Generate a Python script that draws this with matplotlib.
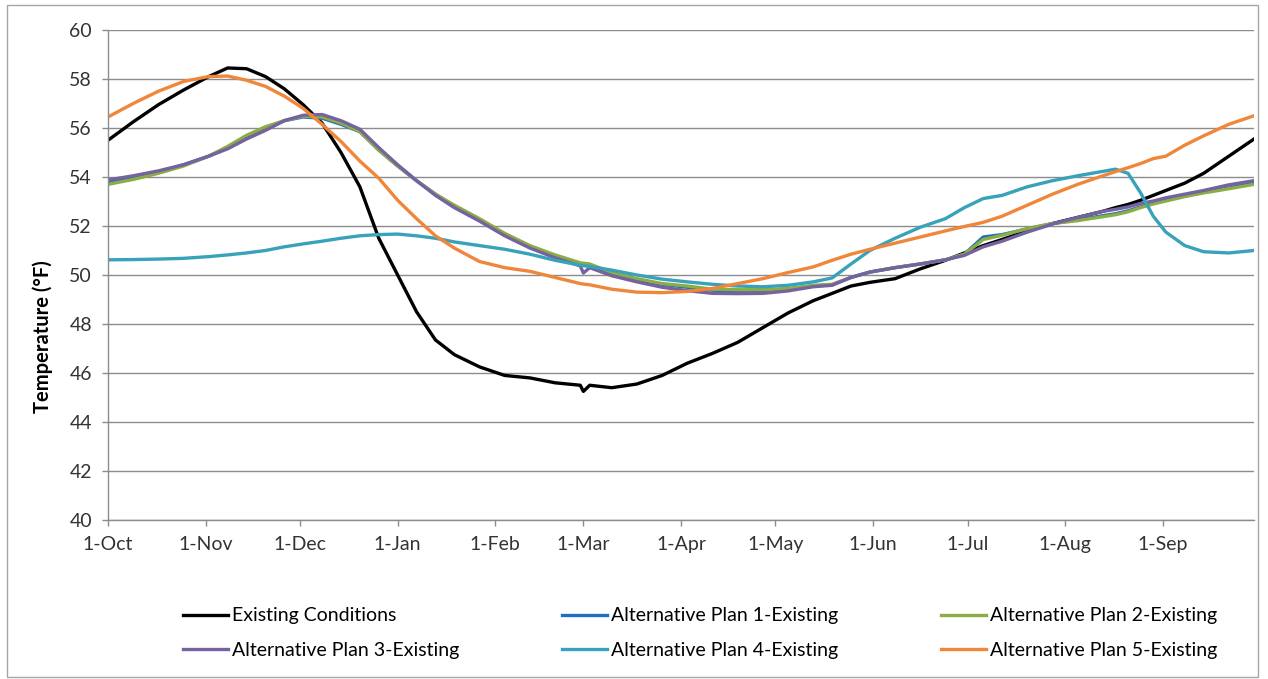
import matplotlib
matplotlib.use('Agg')
import matplotlib.pyplot as plt
from matplotlib.patches import Rectangle

plt.rcParams['font.family'] = ['Lato', 'DejaVu Sans']

# days since 1-Oct
days = [0, 8, 16, 24, 32, 38, 44, 50, 56, 62, 68, 74, 80, 86, 92, 98, 104, 110,
        118, 126, 134, 142, 150, 151, 153, 160, 168, 176, 184, 192, 200, 208,
        216, 224, 230, 236, 242, 250, 258, 266, 272, 278, 284, 292, 300, 308,
        316, 320, 324, 328, 332, 336, 342, 348, 356, 364]

existing = [55.5, 56.25, 56.95, 57.55, 58.1, 58.45, 58.42, 58.1, 57.6, 56.95,
            56.2, 55.0, 53.6, 51.5, 50.0, 48.5, 47.35, 46.75, 46.25, 45.9,
            45.8, 45.6, 45.5, 45.25, 45.5, 45.4, 45.55, 45.9, 46.4, 46.8,
            47.25, 47.85, 48.45, 48.95, 49.25, 49.55, 49.7, 49.85, 50.25,
            50.6, 50.9, 51.2, 51.45, 51.8, 52.1, 52.35, 52.6, 52.75, 52.88,
            53.05, 53.25, 53.45, 53.75, 54.15, 54.85, 55.55]

plan1 = [53.82, 54.0, 54.22, 54.5, 54.85, 55.2, 55.6, 55.95, 56.3, 56.45,
         56.4, 56.15, 55.85, 55.1, 54.45, 53.85, 53.3, 52.8, 52.25, 51.65,
         51.15, 50.78, 50.45, 50.43, 50.4, 50.05, 49.8, 49.62, 49.5, 49.38,
         49.35, 49.35, 49.42, 49.55, 49.6, 49.9, 50.12, 50.3, 50.45, 50.62,
         50.85, 51.55, 51.65, 51.88, 52.1, 52.25, 52.42, 52.5, 52.62, 52.78,
         52.92, 53.05, 53.22, 53.38, 53.55, 53.75]

plan2 = [53.7, 53.9, 54.15, 54.45, 54.85, 55.25, 55.7, 56.05, 56.3, 56.48,
         56.45, 56.2, 55.85, 55.1, 54.45, 53.85, 53.3, 52.85, 52.3, 51.7,
         51.2, 50.82, 50.5, 50.48, 50.45, 50.1, 49.85, 49.65, 49.55, 49.42,
         49.4, 49.4, 49.45, 49.58, 49.62, 49.9, 50.12, 50.3, 50.45, 50.62,
         50.85, 51.45, 51.62, 51.9, 52.1, 52.22, 52.38, 52.46, 52.58, 52.75,
         52.9, 53.02, 53.2, 53.35, 53.52, 53.7]

plan3 = [53.88, 54.05, 54.25, 54.5, 54.85, 55.15, 55.55, 55.9, 56.3, 56.52,
         56.55, 56.3, 55.95, 55.2, 54.5, 53.85, 53.25, 52.75, 52.2, 51.6,
         51.1, 50.7, 50.37, 50.08, 50.3, 49.97, 49.72, 49.5, 49.36, 49.25,
         49.24, 49.25, 49.35, 49.52, 49.58, 49.9, 50.12, 50.3, 50.45, 50.62,
         50.8, 51.15, 51.38, 51.75, 52.08, 52.35, 52.6, 52.68, 52.78, 52.92,
         53.02, 53.15, 53.3, 53.45, 53.68, 53.85]

plan4 = [50.62, 50.63, 50.65, 50.68, 50.75, 50.82, 50.9, 51.0, 51.15, 51.27,
         51.38, 51.5, 51.6, 51.65, 51.67, 51.6, 51.5, 51.35, 51.2, 51.05,
         50.85, 50.6, 50.4, 50.38, 50.35, 50.2, 50.0, 49.83, 49.72, 49.62,
         49.55, 49.52, 49.58, 49.72, 49.88, 50.45, 51.0, 51.5, 51.95, 52.3,
         52.75, 53.12, 53.25, 53.6, 53.85, 54.05, 54.23, 54.32, 54.15, 53.35,
         52.4, 51.75, 51.2, 50.95, 50.9, 51.0]

plan5 = [56.45, 57.0, 57.5, 57.9, 58.1, 58.12, 57.95, 57.7, 57.3, 56.8,
         56.15, 55.45, 54.65, 53.95, 53.05, 52.3, 51.6, 51.1, 50.55, 50.3,
         50.15, 49.9, 49.65, 49.63, 49.6, 49.42, 49.3, 49.28, 49.33, 49.45,
         49.65, 49.85, 50.1, 50.33, 50.6, 50.85, 51.05, 51.3, 51.55, 51.8,
         51.98, 52.15, 52.4, 52.85, 53.3, 53.7, 54.05, 54.22, 54.38, 54.55,
         54.75, 54.85, 55.3, 55.68, 56.15, 56.5]

names = ['Existing Conditions', 'Alternative Plan 1-Existing',
         'Alternative Plan 2-Existing', 'Alternative Plan 3-Existing',
         'Alternative Plan 4-Existing', 'Alternative Plan 5-Existing']
colors = ['#000000', '#1E6FC0', '#8AAE43', '#7662A0', '#38A2BA', '#F0863A']

month_days = [0, 31, 61, 92, 123, 151, 182, 212, 243, 273, 304, 335]
month_labels = ['1-Oct', '1-Nov', '1-Dec', '1-Jan', '1-Feb', '1-Mar',
                '1-Apr', '1-May', '1-Jun', '1-Jul', '1-Aug', '1-Sep']

fig = plt.figure(figsize=(12.68, 6.79), dpi=100)
ax = fig.add_axes([108 / 1268, 1 - 520 / 679, 1146 / 1268, 490 / 679])

series = [existing, plan1, plan2, plan3, plan4, plan5]
lines = []
for vals, name, c in zip(series, names, colors):
    ln, = ax.plot(days, vals, color=c, lw=2.4, label=name, solid_joinstyle='round')
    lines.append(ln)

ax.set_xlim(0, 364)
ax.set_ylim(40, 60)
ax.set_yticks(range(40, 61, 2))
ax.set_xticks(month_days)
ax.set_xticklabels(month_labels)
ax.grid(axis='y', color='#8c8c8c', lw=1)
ax.set_axisbelow(True)
for s in ['top', 'right']:
    ax.spines[s].set_visible(False)
for s in ['left', 'bottom']:
    ax.spines[s].set_color('#8c8c8c')
    ax.spines[s].set_linewidth(1)
ax.tick_params(axis='both', colors='#8c8c8c', labelcolor='#333333',
               labelsize=14, length=4.5, width=1)
ax.tick_params(axis='y', pad=7)
ax.tick_params(axis='x', pad=7)

ax.set_ylabel('Temperature (°F)', fontsize=14.5, fontweight='bold')
ax.yaxis.set_label_coords(-0.048, 0.375)

# row-major order for the 3-column legend
order = [0, 3, 1, 4, 2, 5]
fig.legend([lines[i] for i in order], [names[i] for i in order],
           loc='upper center', bbox_to_anchor=(700 / 1268, 1 - 590 / 679),
           ncol=3, frameon=False, fontsize=14, handlelength=2.3,
           handletextpad=0.2, columnspacing=5.3, labelspacing=0.9)

fig.add_artist(Rectangle((7 / 1268, 2 / 679), 1251 / 1268, 672 / 679,
                         transform=fig.transFigure, fill=False,
                         edgecolor='#a6a6a6', lw=1))

fig.savefig('out.png', dpi=100)
